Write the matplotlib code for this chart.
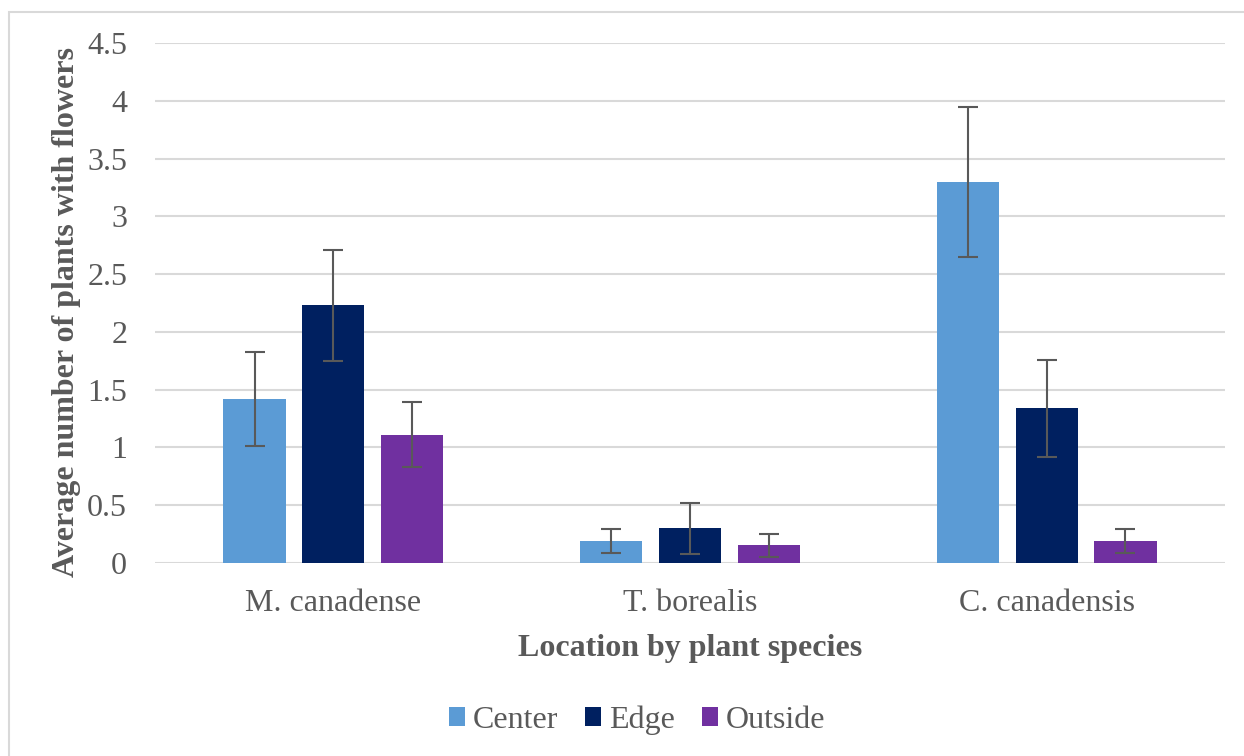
import matplotlib
matplotlib.use("Agg")
import matplotlib.pyplot as plt
import numpy as np
from matplotlib.patches import Rectangle

categories = ["M. canadense", "T. borealis", "C. canadensis"]
series_names = ["Center", "Edge", "Outside"]
center_vals = [1.42, 0.19, 3.30]
edge_vals = [2.23, 0.30, 1.34]
outside_vals = [1.11, 0.155, 0.19]
center_err = [0.41, 0.10, 0.65]
edge_err = [0.48, 0.22, 0.42]
outside_err = [0.28, 0.10, 0.10]
yticks = [0, 0.5, 1, 1.5, 2, 2.5, 3, 3.5, 4, 4.5]
ytick_labels = ["0", "0.5", "1", "1.5", "2", "2.5", "3", "3.5", "4", "4.5"]

colors = ["#5B9BD5", "#002060", "#7030A0"]
text_color = "#595959"
font = ["Liberation Serif", "DejaVu Serif"]
plt.rcParams['font.family'] = font

fig = plt.figure(figsize=(12.44, 7.56), dpi=100)
fig.patches.append(Rectangle((9/1244, -0.1), 1.2, 1 - 12/756 + 0.1, transform=fig.transFigure,
                             fill=False, edgecolor="#D9D9D9", linewidth=1.5))
ax = fig.add_axes([155/1244, 1 - 563/756, (1225 - 155)/1244, (563 - 43)/756])

x = np.arange(len(categories))
width = 0.174
offset = 0.221
vals = [center_vals, edge_vals, outside_vals]
errs = [center_err, edge_err, outside_err]
for i, (v, e, c, n) in enumerate(zip(vals, errs, colors, series_names)):
    ax.bar(x + (i - 1) * offset, v, width, color=c, label=n, zorder=2,
           yerr=e, error_kw=dict(ecolor=text_color, elinewidth=1.5, capsize=7, capthick=1.5, zorder=3))

ax.set_xlim(-0.5, 2.5)
ax.set_ylim(0, 4.5)
ax.set_yticks(yticks)
ax.set_yticklabels(ytick_labels)
ax.set_xticks(x)
ax.set_xticklabels(categories)
ax.tick_params(axis='both', length=0, labelsize=23, labelcolor=text_color)
ax.tick_params(axis='y', pad=20)
ax.tick_params(axis='x', pad=19)
ax.yaxis.grid(True, color="#D9D9D9", linewidth=1.5, zorder=0)
ax.set_axisbelow(True)
for s in ax.spines.values():
    s.set_visible(False)

ax.set_ylabel("Average number of plants with flowers", fontsize=23, fontweight='bold',
              color=text_color, labelpad=4.5)
ax.yaxis.label.set_y(0.483)
ax.set_xlabel("Location by plant species", fontsize=23, fontweight='bold',
              color=text_color, labelpad=11)

leg = fig.legend(loc='center', bbox_to_anchor=(637/1244, 1 - 720/756), ncol=3, frameon=False,
                 fontsize=23, handlelength=0.5, handleheight=0.5, handletextpad=0.25,
                 columnspacing=0.85)
for t in leg.get_texts():
    t.set_color(text_color)

fig.savefig("out.png", dpi=100)
